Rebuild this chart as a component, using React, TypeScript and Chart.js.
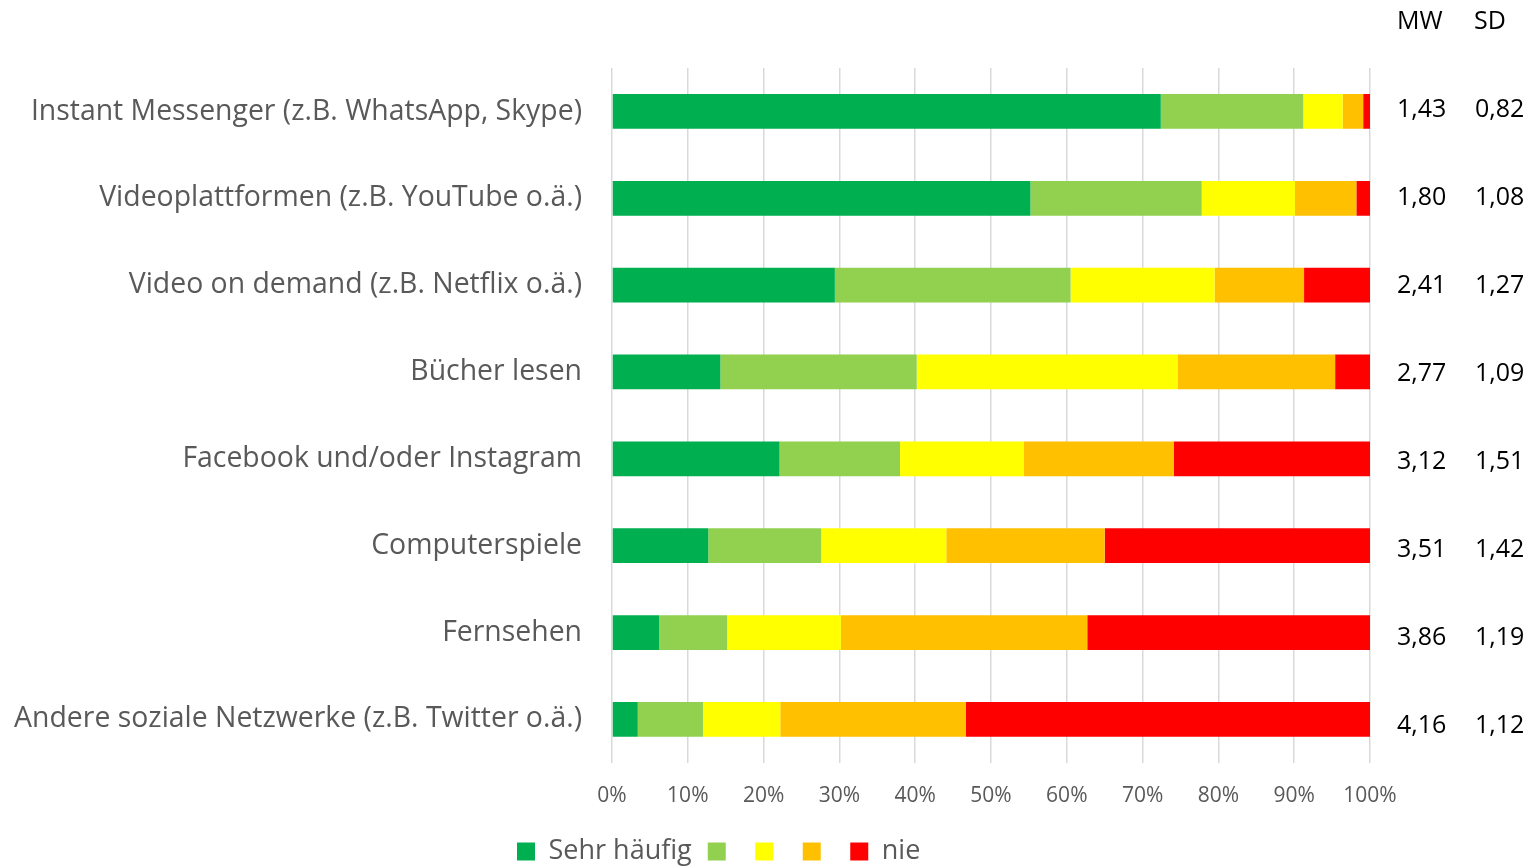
import { useEffect, useRef } from "react";
import { Chart, registerables } from "chart.js";

Chart.register(...registerables);

const categories = [
  "Instant Messenger (z.B. WhatsApp, Skype)",
  "Videoplattformen (z.B. YouTube o.ä.)",
  "Video on demand (z.B. Netflix o.ä.)",
  "Bücher lesen",
  "Facebook und/oder Instagram",
  "Computerspiele",
  "Fernsehen",
  "Andere soziale Netzwerke (z.B. Twitter o.ä.)",
];

const seriesLabels = ["Sehr häufig", "", "", "", "nie"];
const seriesColors = ["#00B050", "#92D050", "#FFFF00", "#FFC000", "#FF0000"];

const sehrHaeufig = [72.4, 55.2, 29.4, 14.3, 22.1, 12.7, 6.2, 3.4];
const stufe2 = [18.8, 22.6, 31.1, 25.9, 15.9, 14.9, 9.0, 8.6];
const stufe3 = [5.2, 12.3, 19.0, 34.4, 16.3, 16.5, 15.0, 10.2];
const stufe4 = [2.7, 8.1, 11.8, 20.8, 19.8, 20.9, 32.5, 24.5];
const nie = [0.9, 1.8, 8.7, 4.6, 25.9, 35.0, 37.3, 53.3];

const mwValues = ["1,43", "1,80", "2,41", "2,77", "3,12", "3,51", "3,86", "4,16"];
const sdValues = ["0,82", "1,08", "1,27", "1,09", "1,51", "1,42", "1,19", "1,12"];
const statHeaders = ["MW", "SD"];

const xTickStep = 10;
const FONT = '"Open Sans", sans-serif';

const statsPlugin = {
  id: "statsColumns",
  afterDraw(chart: any) {
    const { ctx, chartArea, scales } = chart;
    const yScale = scales.y;
    ctx.save();
    ctx.font = `25px ${FONT}`;
    ctx.fillStyle = "#000000";
    ctx.textBaseline = "middle";
    ctx.textAlign = "left";
    const xMw = chartArea.right + 27;
    const xSd = chartArea.right + 105;
    ctx.fillText(statHeaders[0], xMw, chartArea.top - 46);
    ctx.fillText(statHeaders[1], chartArea.right + 104, chartArea.top - 46);
    categories.forEach((_, i) => {
      const y = yScale.getPixelForValue(i) - 2 + 1.15 * i;
      ctx.fillText(mwValues[i], xMw, y);
      ctx.fillText(sdValues[i], xSd, y);
    });
    ctx.restore();
  },
};

const legendPlacement = {
  id: "legendPlacement",
  afterLayout(chart: any) {
    const lg = chart.legend;
    if (!lg) return;
    const dx = 501 - lg.left;
    lg.left += dx;
    lg.right += dx;
    lg.top -= 8;
    lg.bottom -= 8;
  },
};

export default function App() {
  const canvasRef = useRef<HTMLCanvasElement | null>(null);

  useEffect(() => {
    if (!canvasRef.current) return;
    const seriesData = [sehrHaeufig, stufe2, stufe3, stufe4, nie];
    const chart = new Chart(canvasRef.current, {
      type: "bar",
      data: {
        labels: categories,
        datasets: seriesData.map((d, i) => ({
          label: seriesLabels[i],
          data: d,
          backgroundColor: seriesColors[i],
          borderWidth: 0,
          barPercentage: 0.4,
          categoryPercentage: 1,
        })),
      },
      options: {
        indexAxis: "y",
        animation: false,
        responsive: true,
        maintainAspectRatio: false,
        layout: { padding: { top: 68, right: 166, left: 0, bottom: -17 } },
        scales: {
          x: {
            stacked: true,
            min: 0,
            max: 100,
            ticks: {
              stepSize: xTickStep,
              callback: (v: any) => `${v}%`,
              color: "#595959",
              font: { family: FONT, size: 21 },
              padding: 21,
            },
            grid: { color: "#D9D9D9", lineWidth: 1.5, drawTicks: false },
            border: { display: false },
          },
          y: {
            stacked: true,
            ticks: {
              color: "#595959",
              font: { family: FONT, size: 28.4 },
              padding: 30,
            },
            grid: { display: false, drawTicks: false },
            border: { display: false },
            afterFit: (scale: any) => {
              scale.width = 612;
            },
          },
        },
        plugins: {
          legend: {
            position: "bottom",
            align: "start",
            labels: {
              boxWidth: 18,
              boxHeight: 18,
              padding: 16,
              color: "#595959",
              font: { family: FONT, size: 27 },
            },
          },
          tooltip: { enabled: false },
        },
      },
      plugins: [statsPlugin, legendPlacement],
    });
    return () => chart.destroy();
  }, []);

  return (
    <div style={{ position: "fixed", left: 0, top: 0, width: 1536, height: 866, background: "#fff" }}>
      <canvas ref={canvasRef} />
    </div>
  );
}
